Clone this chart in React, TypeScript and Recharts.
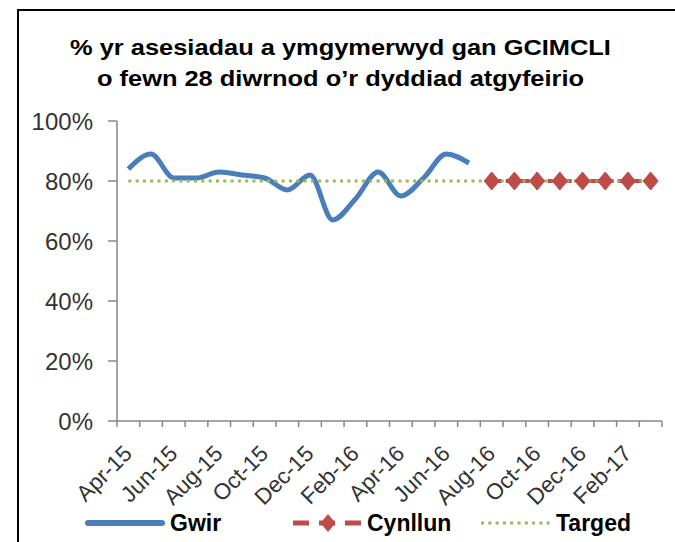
import React from 'react';
import { LineChart, Line, XAxis, YAxis, Legend } from 'recharts';

const months = ['Apr-15','May-15','Jun-15','Jul-15','Aug-15','Sep-15','Oct-15','Nov-15','Dec-15','Jan-16','Feb-16','Mar-16','Apr-16','May-16','Jun-16','Jul-16','Aug-16','Sep-16','Oct-16','Nov-16','Dec-16','Jan-17','Feb-17','Mar-17'];
const gwir: (number | null)[] = [84, 89, 81, 81, 83, 82, 81, 77, 82, 67, 74, 83, 75, 81, 89, 86, null, null, null, null, null, null, null, null];
const cynllun: (number | null)[] = [null, null, null, null, null, null, null, null, null, null, null, null, null, null, null, null, 80, 80, 80, 80, 80, 80, 80, 80];
const targed: number[] = [80, 80, 80, 80, 80, 80, 80, 80, 80, 80, 80, 80, 80, 80, 80, 80, 80, 80, 80, 80, 80, 80, 80, 80];
const yTicks = [0, 20, 40, 60, 80, 100];
const yTickLabels = ['0%', '20%', '40%', '60%', '80%', '100%'];

const data = months.map((m, i) => ({ idx: i, month: m, gwir: gwir[i], cynllun: cynllun[i], targed: targed[i] }));

const xTicks: number[] = [];
months.forEach((_, i) => {
  xTicks.push(i - 0.5);
  if (i % 2 === 0) xTicks.push(i);
});
xTicks.push(months.length - 0.5);

const FONT = '"Liberation Sans", Arial, sans-serif';
const BLUE = '#4A7EBB';
const RED = '#BE4B48';
const GREEN = '#98B954';
const AXIS = '#878787';

const XTick = (props: any) => {
  const { x, y, payload } = props;
  const v = payload.value as number;
  if (!Number.isInteger(v)) {
    return <line x1={x} y1={y} x2={x} y2={y + 6} stroke={AXIS} strokeWidth={1.5} />;
  }
  const tx = x + 5;
  const ty = y + 34;
  return (
    <text x={tx} y={ty} textAnchor="end" fontSize={22.5} fontFamily={FONT} fill="#333" transform={`rotate(-45, ${tx}, ${ty})`}>
      {months[v]}
    </text>
  );
};

const Diamond = (props: any) => {
  const { cx, cy } = props;
  if (cx == null || cy == null || props.value == null) return null;
  return <polygon points={`${cx},${cy - 9} ${cx + 7.5},${cy} ${cx},${cy + 9} ${cx - 7.5},${cy}`} fill={RED} stroke={RED} strokeWidth={1} />;
};

const LegendContent = () => {
  const textStyle: React.CSSProperties = { position: 'absolute', top: 0, lineHeight: '30px', fontSize: 23, fontWeight: 'bold', fontFamily: FONT, color: '#000' };
  return (
    <div style={{ position: 'relative', width: 675, height: 30 }}>
      <svg style={{ position: 'absolute', left: 85, top: 0 }} width={80} height={30}>
        <line x1={3} y1={15} x2={77} y2={15} stroke={BLUE} strokeWidth={6} strokeLinecap="round" />
      </svg>
      <span style={{ ...textStyle, left: 170 }}>Gwir</span>
      <svg style={{ position: 'absolute', left: 293, top: 0 }} width={70} height={30}>
        <line x1={0} y1={15} x2={70} y2={15} stroke={RED} strokeWidth={5} strokeDasharray="16 10" />
        <polygon points="35,6 42.5,15 35,24 27.5,15" fill={RED} />
      </svg>
      <span style={{ ...textStyle, left: 367 }}>Cynllun</span>
      <svg style={{ position: 'absolute', left: 481, top: 0 }} width={72} height={30}>
        <line x1={0} y1={15} x2={72} y2={15} stroke={GREEN} strokeWidth={3} strokeDasharray="3 4.3" />
      </svg>
      <span style={{ ...textStyle, left: 556 }}>Targed</span>
    </div>
  );
};

export default function App() {
  return (
    <div style={{ position: 'fixed', left: 0, top: 0, width: 675, height: 542, overflow: 'hidden', background: '#fff', fontFamily: FONT }}>
      <div style={{ position: 'absolute', left: 17, top: 9, width: 800, height: 800, borderLeft: '2px solid #000', borderTop: '2px solid #000' }} />
      <div style={{ position: 'absolute', left: 0, top: 32, width: 681, textAlign: 'center', fontSize: 22, fontWeight: 'bold', lineHeight: '31px', color: '#000', fontFamily: FONT, transform: 'scaleX(1.155)', transformOrigin: '340.5px 0' }}>
        <div>% yr asesiadau a ymgymerwyd gan GCIMCLI</div>
        <div>o fewn 28 diwrnod o’r dyddiad atgyfeirio</div>
      </div>
      <div style={{ position: 'absolute', left: 0, top: 0 }}>
        <LineChart width={675} height={542} data={data} margin={{ top: 121, right: 13, bottom: 21, left: 0 }}>
          <XAxis
            dataKey="idx"
            type="number"
            domain={[-0.5, 23.5]}
            ticks={xTicks}
            interval={0}
            tickLine={false}
            tickSize={0}
            tickMargin={0}
            height={100}
            axisLine={{ stroke: AXIS, strokeWidth: 1.5 }}
            tick={<XTick />}
            allowDataOverflow
          />
          <YAxis
            domain={[0, 100]}
            ticks={yTicks}
            interval={0}
            width={117}
            tickSize={9}
            tickMargin={15}
            axisLine={{ stroke: AXIS, strokeWidth: 1.5 }}
            tickLine={{ stroke: AXIS, strokeWidth: 1.5 }}
            tick={{ fontSize: 24, fill: '#333', fontFamily: FONT }}
            tickFormatter={(v: number) => yTickLabels[yTicks.indexOf(v)]}
          />
          <Legend verticalAlign="middle" align="center" layout="horizontal" content={<LegendContent />} wrapperStyle={{ top: 508, left: 0, width: 675, height: 30 }} />
          <Line dataKey="gwir" type="monotone" stroke={BLUE} strokeWidth={5} dot={false} activeDot={false} isAnimationActive={false} connectNulls={false} />
          <Line dataKey="cynllun" type="linear" stroke={RED} strokeWidth={4} strokeDasharray="10 4" dot={<Diamond />} activeDot={false} isAnimationActive={false} />
          <Line dataKey="targed" type="linear" stroke={GREEN} strokeWidth={3} strokeDasharray="3 4.3" dot={false} activeDot={false} isAnimationActive={false} />
        </LineChart>
      </div>
    </div>
  );
}
